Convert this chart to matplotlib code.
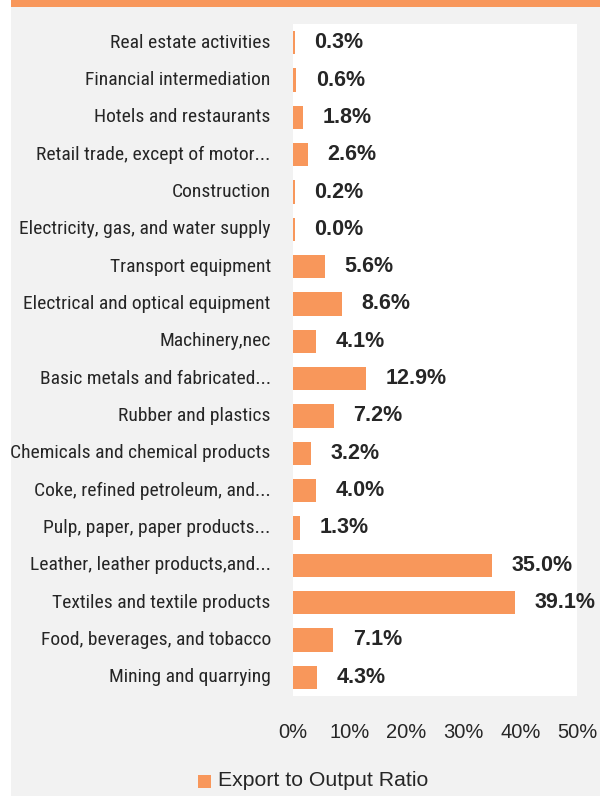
import matplotlib.pyplot as plt
from matplotlib.patches import Rectangle
import numpy as np

plt.rcParams['font.family'] = ['Liberation Sans', 'DejaVu Sans']

# sectors, listed top to bottom as drawn
sectors = [
    'Real estate activities',
    'Financial intermediation',
    'Hotels and restaurants',
    'Retail trade, except of motor...',
    'Construction',
    'Electricity, gas, and water supply',
    'Transport equipment',
    'Electrical and optical equipment',
    'Machinery,nec',
    'Basic metals and fabricated...',
    'Rubber and plastics',
    'Chemicals and chemical products',
    'Coke, refined petroleum, and...',
    'Pulp, paper, paper products...',
    'Leather, leather products,and...',
    'Textiles and textile products',
    'Food, beverages, and tobacco',
    'Mining and quarrying',
]
export_ratio = [0.3, 0.6, 1.8, 2.6, 0.2, 0.0, 5.6, 8.6, 4.1, 12.9,
                7.2, 3.2, 4.0, 1.3, 35.0, 39.1, 7.1, 4.3]
xticks = [0, 10, 20, 30, 40, 50]

bar_color = '#F8975B'
panel_bg = '#F2F2F2'
text_color = '#262626'
narrow = ['Roboto Condensed', 'Archivo Narrow', 'Liberation Sans']

fig = plt.figure(figsize=(6, 7.96), dpi=100)
fig.patch.set_facecolor('white')

# grey panel and orange strip on top
fig.patches.append(Rectangle((11 / 600, 0), 1 - 11 / 600, 1 - 7 / 796,
                             transform=fig.transFigure, facecolor=panel_bg,
                             edgecolor='none', zorder=-2))
fig.patches.append(Rectangle((11 / 600, 1 - 7 / 796), 1 - 11 / 600, 7 / 796,
                             transform=fig.transFigure, facecolor=bar_color,
                             edgecolor='none', zorder=-1))

ax = fig.add_axes([293 / 600, 1 - 696 / 796, 284 / 600, 672 / 796])
ax.set_facecolor('white')

y = np.arange(len(sectors))
# tiny values still get a visible sliver
widths = [max(v, 0.35) for v in export_ratio]
ax.barh(y, widths, height=0.62, color=bar_color, zorder=2)

for yi, v in zip(y, export_ratio):
    ax.annotate(f'{v:.1f}%', xy=(max(v, 0.35), yi), xytext=(14, 0),
                textcoords='offset points', ha='left', va='center',
                fontsize=15.5, fontweight='bold', color=text_color)

ax.set_ylim(len(sectors) - 0.5, -0.5)
ax.set_xlim(0, 50)
ax.set_yticks(y)
ax.set_yticklabels(sectors, fontsize=14, color=text_color, family=narrow,
                   va='center')
ax.set_xticks(xticks)
ax.set_xticklabels([f'{t}%' for t in xticks], fontsize=14.5, color=text_color)
ax.tick_params(axis='y', length=0, pad=16)
ax.tick_params(axis='x', length=0, pad=19.5)
for s in ax.spines.values():
    s.set_visible(False)

# legend
fig.patches.append(Rectangle((198 / 600, 1 - 788 / 796), 13 / 600, 13 / 796,
                             transform=fig.transFigure, facecolor=bar_color,
                             edgecolor='none'))
fig.text(218 / 600, 1 - 781 / 796, 'Export to Output Ratio', fontsize=15.3,
         color=text_color, ha='left', va='center')

fig.savefig('out.png', dpi=100, facecolor=fig.get_facecolor())
